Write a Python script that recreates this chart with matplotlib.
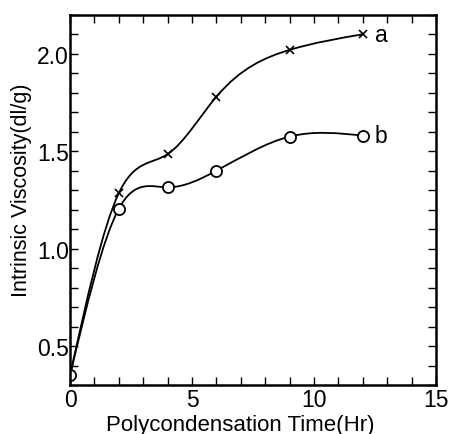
import numpy as np
import matplotlib
matplotlib.use('Agg')
import matplotlib.pyplot as plt
from matplotlib.path import Path
from matplotlib.patches import PathPatch
from matplotlib.ticker import MultipleLocator

plt.rcParams['font.family'] = ['Liberation Sans', 'DejaVu Sans']

###############################################################################
## Data
###############################################################################
time_a = [0, 2, 4, 6, 9, 12]
visc_a = [0.35, 1.285, 1.485, 1.78, 2.02, 2.10]

time_b = [0, 2, 4, 6, 9, 12]
visc_b = [0.35, 1.205, 1.315, 1.40, 1.575, 1.58]

xlabel = 'Polycondensation Time(Hr)'
ylabel = 'Intrinsic Viscosity(dl/g)'


def spline_slopes(x, y):
    # natural cubic spline -> first derivative at knots
    x = np.asarray(x, float)
    y = np.asarray(y, float)
    n = len(x)
    h = np.diff(x)
    A = np.zeros((n, n))
    r = np.zeros(n)
    A[0, 0] = 1
    A[-1, -1] = 1
    for i in range(1, n - 1):
        A[i, i - 1] = h[i - 1]
        A[i, i] = 2 * (h[i - 1] + h[i])
        A[i, i + 1] = h[i]
        r[i] = 3 * ((y[i + 1] - y[i]) / h[i] - (y[i] - y[i - 1]) / h[i - 1])
    c = np.linalg.solve(A, r)
    d = np.zeros(n)
    for i in range(n - 1):
        d[i] = (y[i + 1] - y[i]) / h[i] - h[i] * (2 * c[i] + c[i + 1]) / 3
    i = n - 2
    d[-1] = (y[i + 1] - y[i]) / h[i] + h[i] * (c[i] + 2 * c[i + 1]) / 3
    return d


def smooth_path(x, y):
    # hermite segments as bezier curves
    d = spline_slopes(x, y)
    verts = [(x[0], y[0])]
    codes = [Path.MOVETO]
    for i in range(len(x) - 1):
        h = x[i + 1] - x[i]
        verts += [(x[i] + h / 3, y[i] + d[i] * h / 3),
                  (x[i + 1] - h / 3, y[i + 1] - d[i + 1] * h / 3),
                  (x[i + 1], y[i + 1])]
        codes += [Path.CURVE4] * 3
    return Path(verts, codes)


fig = plt.figure(figsize=(4.49, 4.35), dpi=100)
ax = fig.add_axes([0.156, 0.1126, 0.815, 0.851])

for tx, vy in [(time_a, visc_a), (time_b, visc_b)]:
    ax.add_patch(PathPatch(smooth_path(tx, vy), fill=False, lw=1.3, color='black'))

ax.plot(time_a, visc_a, ls='none', marker='x', ms=6, mew=1.2, color='black')
ax.plot(time_b, visc_b, ls='none', marker='o', ms=8, mew=1.3, mfc='white', mec='black')

ax.text(12.5, visc_a[-1], 'a', fontsize=16.5, va='center', ha='left')
ax.text(12.5, visc_b[-1], 'b', fontsize=16.5, va='center', ha='left')

ax.set_xlim(0, 15)
ax.set_ylim(0.3, 2.2)
ax.xaxis.set_major_locator(MultipleLocator(5))
ax.xaxis.set_minor_locator(MultipleLocator(1))
ax.yaxis.set_major_locator(MultipleLocator(0.5))
ax.yaxis.set_minor_locator(MultipleLocator(0.1))
ax.tick_params(which='both', direction='in', top=True, right=True,
               length=6, width=1.0, labelsize=16.5, pad=2)
ax.tick_params(axis='y', pad=1)
for s in ax.spines.values():
    s.set_linewidth(1.8)

ax.set_xlabel(xlabel, fontsize=16)
ax.xaxis.set_label_coords(0.464, -0.077)
ax.set_ylabel(ylabel, fontsize=15.5)
ax.yaxis.set_label_coords(-0.105, 0.53)

fig.savefig('out.png', dpi=100)
